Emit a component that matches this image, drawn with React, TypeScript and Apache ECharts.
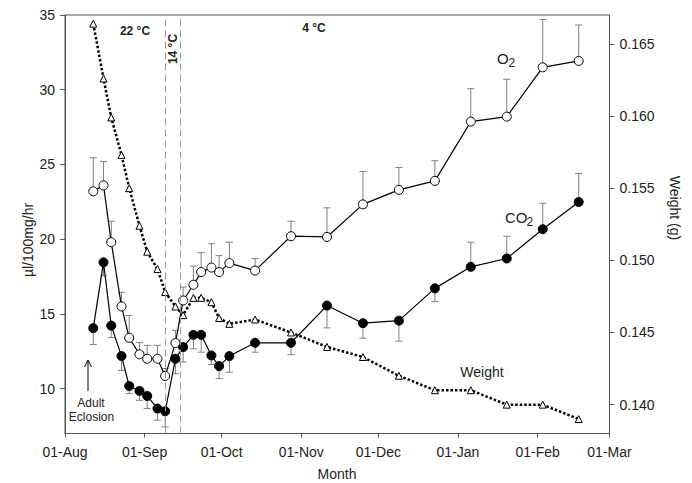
import React, { useEffect, useRef } from "react";
import * as echarts from "echarts";

const startDate = "2005-08-01";
const sampleDates = [
  "2005-08-12", "2005-08-16", "2005-08-19", "2005-08-23", "2005-08-26", "2005-08-30",
  "2005-09-02", "2005-09-06", "2005-09-09", "2005-09-13", "2005-09-16", "2005-09-20",
  "2005-09-23", "2005-09-27", "2005-09-30", "2005-10-04", "2005-10-14", "2005-10-28",
  "2005-11-11", "2005-11-25", "2005-12-09", "2005-12-23", "2006-01-06", "2006-01-20",
  "2006-02-03", "2006-02-17",
];
const o2Values = [
  23.2, 23.6, 19.8, 15.5, 13.4, 12.3, 12.0, 12.0, 10.85, 13.05, 15.9, 16.95, 17.8,
  18.1, 17.8, 18.4, 17.9, 20.2, 20.15, 22.33, 23.3, 23.9, 27.87, 28.2, 31.5, 31.93,
];
const o2Err = [
  2.25, 1.6, 1.4, 0.95, 1.5, 0.8, 0.9, 0.9, 0.5, 0.85, 0.9, 1.25, 1.3, 1.6, 1.1, 1.4,
  0.8, 1.0, 1.95, 2.2, 1.5, 1.35, 2.2, 2.5, 3.2, 2.4,
];
const co2Values = [
  14.05, 18.45, 14.22, 12.18, 10.18, 9.85, 9.51, 8.67, 8.49, 12.0, 12.78, 13.6, 13.6,
  12.22, 11.51, 12.18, 13.07, 13.07, 15.56, 14.38, 14.55, 16.71, 18.15, 18.71, 20.67, 22.49,
];
// signed: negative = error bar drawn downward
const co2Err = [
  -1.1, -0.9, -0.8, -0.96, -0.5, -0.63, -0.84, -0.78, -1.05, -1.0, -1.0, -0.93, -1.16,
  -0.6, -0.84, -1.08, -0.63, -0.8, -1.49, -1.0, -1.37, -0.89, 1.65, 1.49, 1.73, 1.91,
];
const weightValues = [
  0.1664, 0.1626, 0.1599, 0.1573, 0.155, 0.1524, 0.1506, 0.1494, 0.1478, 0.1468, 0.1462,
  0.1474, 0.1474, 0.1471, 0.146, 0.1456, 0.1459, 0.145, 0.144, 0.1433, 0.142, 0.141,
  0.141, 0.14, 0.14, 0.139,
];
const monthTickDates = [
  "2005-08-01", "2005-09-01", "2005-10-01", "2005-11-01", "2005-12-01",
  "2006-01-01", "2006-02-01", "2006-03-01",
];
const monthLabels = ["01-Aug", "01-Sep", "01-Oct", "01-Nov", "01-Dec", "01-Jan", "01-Feb", "01-Mar"];
const leftTicks = [10, 15, 20, 25, 30, 35];
const weightTicks = [0.14, 0.145, 0.15, 0.155, 0.16, 0.165];
const tempChangeDates = ["2005-09-09", "2005-09-15"];

const toDay = (s: string) =>
  Math.round((Date.parse(s + "T00:00:00Z") - Date.parse(startDate + "T00:00:00Z")) / 86400000);

const FONT = "'Liberation Sans', Arial, sans-serif";
const AXIS_COLOR = "#555";
const TEXT_COLOR = "#222";

function errorRender(params: any, api: any) {
  const x = api.value(0);
  const y = api.value(1);
  const e = api.value(2);
  const p0 = api.coord([x, y]);
  const p1 = api.coord([x, y + e]);
  const style = { stroke: "#808080", lineWidth: 1 };
  return {
    type: "group",
    children: [
      { type: "line", shape: { x1: p0[0], y1: p0[1], x2: p1[0], y2: p1[1] }, style },
      { type: "line", shape: { x1: p1[0] - 3.5, y1: p1[1], x2: p1[0] + 3.5, y2: p1[1] }, style },
    ],
  };
}

export default function App() {
  const ref = useRef<HTMLDivElement>(null);
  useEffect(() => {
    document.body.style.margin = "0";
    if (!ref.current) return;
    const chart = echarts.init(ref.current, undefined, { renderer: "svg" });
    const days = sampleDates.map(toDay);
    const monthDays = monthTickDates.map(toDay);
    const o2Data = days.map((d, i) => [d, o2Values[i]]);
    const co2Data = days.map((d, i) => [d, co2Values[i]]);
    const wData = days.map((d, i) => [d, weightValues[i]]);
    const o2ErrData = days.map((d, i) => [d, o2Values[i], o2Err[i]]);
    const co2ErrData = days.map((d, i) => [d, co2Values[i], co2Err[i]]);

    const axisLine = { show: true, onZero: false, lineStyle: { color: AXIS_COLOR, width: 1 } };
    const label = { fontSize: 14, color: TEXT_COLOR, fontFamily: FONT };

    chart.setOption({
      animation: false,
      textStyle: { fontFamily: FONT },
      grid: {
        left: 65,
        right: 82.5,
        top: 15,
        bottom: 49.5,
        show: true,
        borderColor: AXIS_COLOR,
        borderWidth: 1,
      },
      xAxis: {
        type: "value",
        min: 0,
        max: 212,
        axisLine,
        axisTick: { show: true, length: 4, customValues: monthDays, lineStyle: { color: AXIS_COLOR } },
        axisLabel: {
          ...label,
          margin: 11,
          customValues: monthDays,
          formatter: (v: number) => {
            const i = monthDays.indexOf(Math.round(v));
            return i >= 0 ? monthLabels[i] : "";
          },
        },
        splitLine: { show: false },
      },
      yAxis: [
        {
          type: "value",
          min: 7,
          max: 35,
          position: "left",
          axisLine,
          axisTick: { show: true, length: 5, customValues: leftTicks, lineStyle: { color: AXIS_COLOR } },
          axisLabel: { ...label, margin: 10, customValues: leftTicks },
          splitLine: { show: false },
        },
        {
          type: "value",
          min: 0.138,
          max: 0.167,
          position: "right",
          axisLine,
          axisTick: { show: true, length: 5, customValues: weightTicks, lineStyle: { color: AXIS_COLOR } },
          axisLabel: {
            ...label,
            margin: 10,
            customValues: weightTicks,
            formatter: (v: number) => v.toFixed(3),
          },
          splitLine: { show: false },
        },
      ],
      series: [
        {
          type: "custom",
          name: "O2 err",
          renderItem: errorRender,
          data: o2ErrData,
          encode: { x: 0, y: 1 },
          yAxisIndex: 0,
          z: 1,
          silent: true,
        },
        {
          type: "custom",
          name: "CO2 err",
          renderItem: errorRender,
          data: co2ErrData,
          encode: { x: 0, y: 1 },
          yAxisIndex: 0,
          z: 1,
          silent: true,
        },
        {
          type: "line",
          name: "Weight",
          yAxisIndex: 1,
          data: wData,
          symbol: "triangle",
          symbolSize: 7,
          itemStyle: { color: "#fff", borderColor: "#000", borderWidth: 1 },
          lineStyle: { color: "#000", width: 2.5, type: [2.5, 2] },
          z: 2,
        },
        {
          type: "line",
          name: "O2",
          yAxisIndex: 0,
          data: o2Data,
          symbol: "circle",
          symbolSize: 9,
          itemStyle: { color: "#fff", borderColor: "#000", borderWidth: 1 },
          lineStyle: { color: "#000", width: 1.2 },
          z: 3,
          markLine: {
            silent: true,
            symbol: ["none", "none"],
            label: { show: false },
            lineStyle: { color: "#999", type: [7, 4], width: 1 },
            data: tempChangeDates.map((d) => ({ xAxis: toDay(d) })),
          },
        },
        {
          type: "line",
          name: "CO2",
          yAxisIndex: 0,
          data: co2Data,
          symbol: "circle",
          symbolSize: 9,
          itemStyle: { color: "#000", borderColor: "#000", borderWidth: 1 },
          lineStyle: { color: "#000", width: 1.2 },
          z: 3,
        },
      ],
      graphic: [
        { type: "text", x: 135, y: 31, style: { text: "22 °C", font: `bold 12px ${FONT}`, fill: TEXT_COLOR, align: "center", verticalAlign: "middle" } },
        { type: "text", x: 173, y: 49, rotation: Math.PI / 2, style: { text: "14 °C", font: `bold 12px ${FONT}`, fill: TEXT_COLOR, align: "center", verticalAlign: "middle" } },
        { type: "text", x: 314, y: 28, style: { text: "4 °C", font: `bold 12px ${FONT}`, fill: TEXT_COLOR, align: "center", verticalAlign: "middle" } },
        { type: "text", x: 497, y: 58, style: { text: "O", font: `15px ${FONT}`, fill: TEXT_COLOR, align: "left", verticalAlign: "middle" } },
        { type: "text", x: 508.5, y: 62.5, style: { text: "2", font: `12px ${FONT}`, fill: TEXT_COLOR, align: "left", verticalAlign: "middle" } },
        { type: "text", x: 505, y: 217.5, style: { text: "CO", font: `15px ${FONT}`, fill: TEXT_COLOR, align: "left", verticalAlign: "middle" } },
        { type: "text", x: 526.5, y: 222, style: { text: "2", font: `12px ${FONT}`, fill: TEXT_COLOR, align: "left", verticalAlign: "middle" } },
        { type: "text", x: 482, y: 371.5, style: { text: "Weight", font: `14px ${FONT}`, fill: TEXT_COLOR, align: "center", verticalAlign: "middle" } },
        { type: "text", x: 91, y: 403, style: { text: "Adult", font: `12px ${FONT}`, fill: TEXT_COLOR, align: "center", verticalAlign: "middle" } },
        { type: "text", x: 91.5, y: 417, style: { text: "Eclosion", font: `12px ${FONT}`, fill: TEXT_COLOR, align: "center", verticalAlign: "middle" } },
        { type: "line", shape: { x1: 88, y1: 391, x2: 88, y2: 360 }, style: { stroke: "#000", lineWidth: 1 } },
        { type: "polyline", shape: { points: [[84.5, 367], [88, 360], [91.5, 367]] }, style: { stroke: "#000", lineWidth: 1, fill: "none" } },
        { type: "text", x: 337, y: 474, style: { text: "Month", font: `14px ${FONT}`, fill: TEXT_COLOR, align: "center", verticalAlign: "middle" } },
        { type: "text", x: 28, y: 240, rotation: Math.PI / 2, style: { text: "µl/100mg/hr", font: `14px ${FONT}`, fill: TEXT_COLOR, align: "center", verticalAlign: "middle" } },
        { type: "text", x: 675, y: 208, rotation: -Math.PI / 2, style: { text: "Weight (g)", font: `14px ${FONT}`, fill: TEXT_COLOR, align: "center", verticalAlign: "middle" } },
      ],
    });
    return () => chart.dispose();
  }, []);
  return (
    <div
      ref={ref}
      style={{ width: 692, height: 483, position: "fixed", left: 0, top: 0, background: "#fff" }}
    />
  );
}
